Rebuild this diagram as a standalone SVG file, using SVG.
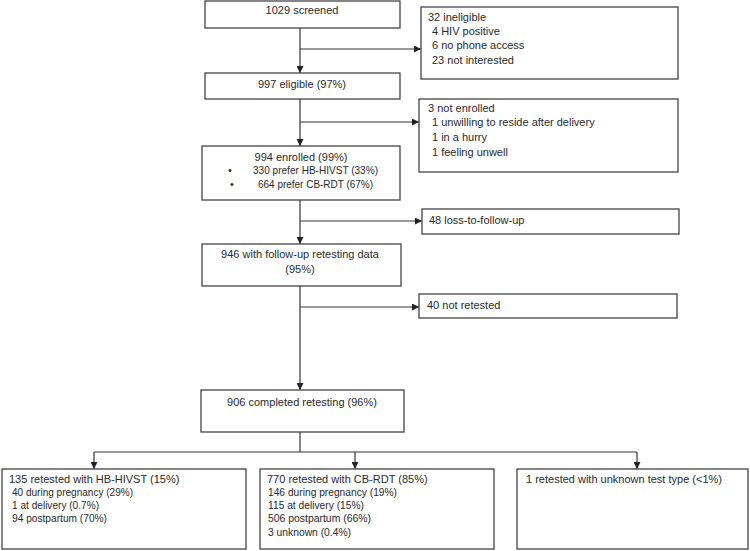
<svg xmlns="http://www.w3.org/2000/svg" width="750" height="551" viewBox="0 0 750 551">
<defs>
<style>
.box{fill:#fff;stroke:#444;stroke-width:1.3}
.t{font-family:"Liberation Sans",Arial,sans-serif;font-size:11px;fill:#2a2a2a}
.c{text-anchor:middle}
.ln{fill:none;stroke:#333;stroke-width:1.2}
</style>
<marker id="ah" viewBox="0 0 8 8" refX="8" refY="4" markerWidth="7" markerHeight="7" markerUnits="userSpaceOnUse" orient="auto">
<path d="M0,0 L8,4 L0,8 z" fill="#222"/>
</marker>
</defs>
<rect width="750" height="551" fill="#fff"/>
<g id="connectors">
<line class="ln" x1="300" y1="28" x2="300" y2="73" marker-end="url(#ah)"/>
<line class="ln" x1="300" y1="49" x2="421" y2="49" marker-end="url(#ah)"/>
<line class="ln" x1="300" y1="99" x2="300" y2="146" marker-end="url(#ah)"/>
<line class="ln" x1="300" y1="122" x2="419" y2="122" marker-end="url(#ah)"/>
<line class="ln" x1="300" y1="200" x2="300" y2="244" marker-end="url(#ah)"/>
<line class="ln" x1="300" y1="221" x2="422" y2="221" marker-end="url(#ah)"/>
<line class="ln" x1="300" y1="286" x2="300" y2="390" marker-end="url(#ah)"/>
<line class="ln" x1="300" y1="307" x2="419" y2="307" marker-end="url(#ah)"/>
<line class="ln" x1="300" y1="432" x2="300" y2="452"/>
<line class="ln" x1="94" y1="452" x2="637" y2="452"/>
<line class="ln" x1="94" y1="452" x2="94" y2="469" marker-end="url(#ah)"/>
<line class="ln" x1="355" y1="452" x2="355" y2="469" marker-end="url(#ah)"/>
<line class="ln" x1="637" y1="452" x2="637" y2="469" marker-end="url(#ah)"/>
</g>
<g id="screened">
<rect class="box" x="205" y="1" width="195" height="27"/>
<text class="t c" x="302" y="14">1029 screened</text>
</g>
<g id="ineligible">
<rect class="box" x="421" y="7" width="257" height="72"/>
<text class="t" x="428" y="21">32 ineligible</text>
<text class="t" x="432" y="35">4 HIV positive</text>
<text class="t" x="432" y="49">6 no phone access</text>
<text class="t" x="432" y="64">23 not interested</text>
</g>
<g id="eligible">
<rect class="box" x="205" y="73" width="195" height="26"/>
<text class="t c" x="302" y="88">997 eligible (97%)</text>
</g>
<g id="not-enrolled">
<rect class="box" x="419" y="99" width="259" height="73"/>
<text class="t" x="428" y="112">3 not enrolled</text>
<text class="t" x="432" y="126">1 unwilling to reside after delivery</text>
<text class="t" x="432" y="141">1 in a hurry</text>
<text class="t" x="432" y="156">1 feeling unwell</text>
</g>
<g id="enrolled">
<rect class="box" x="202" y="146" width="198" height="54"/>
<text class="t c" x="301" y="161">994 enrolled (99%)</text>
<text class="t" x="228" y="174">•</text>
<text class="t" x="253" y="174" textLength="125" lengthAdjust="spacingAndGlyphs">330 prefer HB-HIVST (33%)</text>
<text class="t" x="230" y="188">•</text>
<text class="t" x="258" y="188" textLength="115" lengthAdjust="spacingAndGlyphs">664 prefer CB-RDT (67%)</text>
</g>
<g id="loss">
<rect class="box" x="422" y="209" width="257" height="25"/>
<text class="t" x="429" y="224">48 loss-to-follow-up</text>
</g>
<g id="followup">
<rect class="box" x="202" y="244" width="199" height="42"/>
<text class="t c" x="300" y="258">946 with follow-up  retesting data</text>
<text class="t c" x="300" y="273">(95%)</text>
</g>
<g id="not-retested">
<rect class="box" x="419" y="294" width="258" height="24"/>
<text class="t" x="427" y="309">40 not retested</text>
</g>
<g id="completed">
<rect class="box" x="201" y="390" width="203" height="42"/>
<text class="t c" x="302" y="406">906 completed retesting (96%)</text>
</g>
<g id="hbhivst">
<rect class="box" x="2" y="469" width="244" height="80"/>
<text class="t" x="9" y="483">135 retested with HB-HIVST  (15%)</text>
<text class="t" x="12" y="496" textLength="121" lengthAdjust="spacingAndGlyphs">40 during pregnancy (29%)</text>
<text class="t" x="12" y="509" textLength="87" lengthAdjust="spacingAndGlyphs">1 at delivery (0.7%)</text>
<text class="t" x="12" y="522" textLength="95" lengthAdjust="spacingAndGlyphs">94 postpartum (70%)</text>
</g>
<g id="cbrdt">
<rect class="box" x="260" y="469" width="234" height="80"/>
<text class="t" x="267" y="483">770 retested with CB-RDT  (85%)</text>
<text class="t" x="268" y="496" textLength="129" lengthAdjust="spacingAndGlyphs">146 during pregnancy (19%)</text>
<text class="t" x="268" y="509" textLength="96" lengthAdjust="spacingAndGlyphs">115 at delivery (15%)</text>
<text class="t" x="268" y="522" textLength="103" lengthAdjust="spacingAndGlyphs">506 postpartum (66%)</text>
<text class="t" x="268" y="536" textLength="83" lengthAdjust="spacingAndGlyphs">3 unknown (0.4%)</text>
</g>
<g id="unknown">
<rect class="box" x="517" y="469" width="231" height="80"/>
<text class="t" x="526" y="483">1 retested with unknown test type (&lt;1%)</text>
</g>
</svg>
